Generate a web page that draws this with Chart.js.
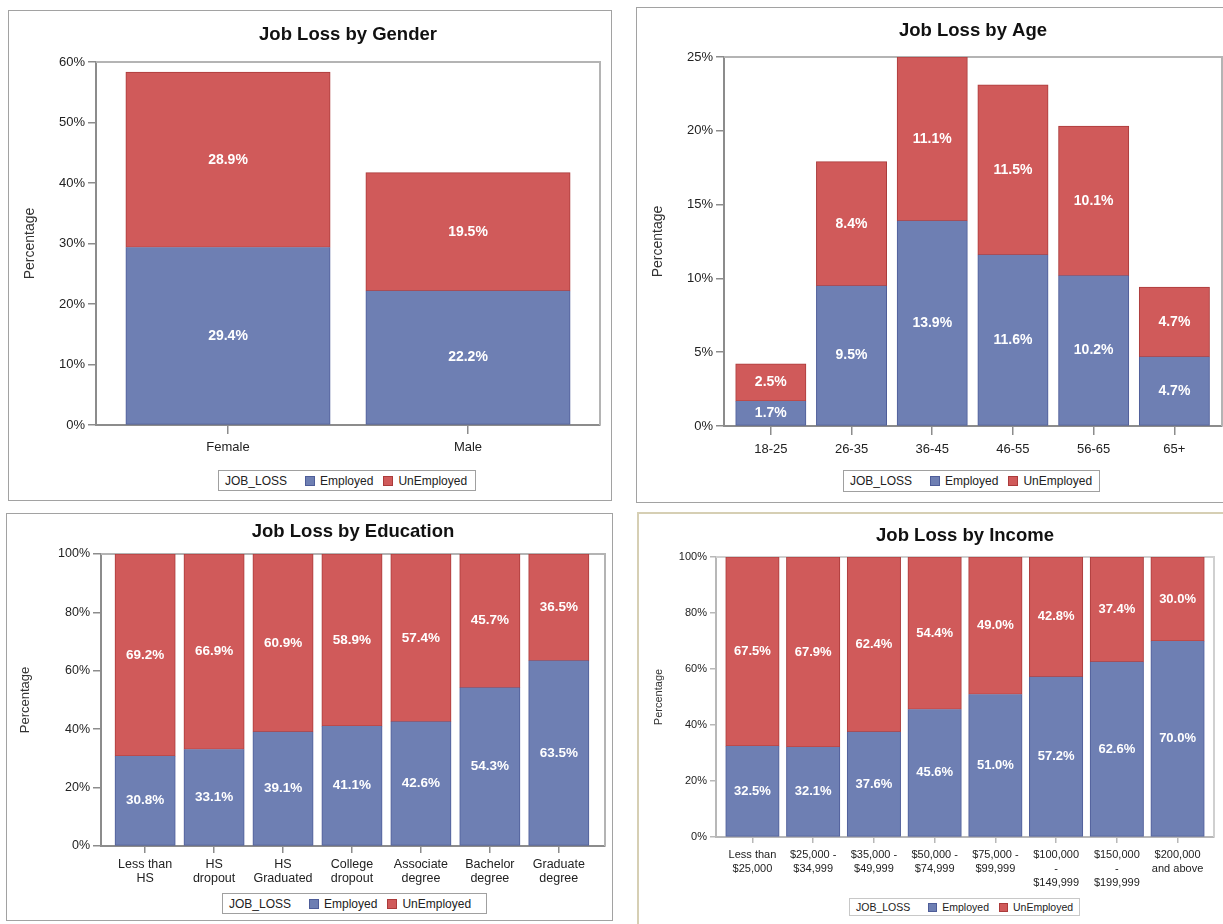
<!DOCTYPE html>
<html>
<head>
<meta charset="utf-8">
<title>Job Loss</title>
<script src="https://cdn.jsdelivr.net/npm/chart.js@4.4.1/dist/chart.umd.min.js"></script>
<style>
  html, body { margin: 0; padding: 0; background: #ffffff; }
  body { position: relative; width: 1223px; height: 924px; overflow: hidden;
         font-family: "Liberation Sans", Arial, sans-serif; }
  canvas { position: absolute; }
  .frame { position: absolute; box-sizing: border-box; border: 1px solid #a2a2a2; pointer-events: none; }
  .frame.beige { border-color: #d6cfb4; border-width: 2px; }
  .legend { position: absolute; box-sizing: border-box; border: 1px solid #a0a0a0; background: #fff;
            display: flex; align-items: center; color: #222; white-space: nowrap; }
  .legend .ttl { margin-right: 18px; }
  .legend .sw { display: inline-block; box-sizing: border-box; border: 1px solid; margin-right: 5px; }
  .legend .item { display: inline-flex; align-items: center; margin-right: 10px; }
</style>
</head>
<body>

<div class="frame" style="left:8px; top:10px; width:604px; height:491px;"></div>
<div class="frame" style="left:636px; top:7px; width:620px; height:496px;"></div>
<div class="frame" style="left:6px; top:513px; width:607px; height:408px;"></div>
<div class="frame beige" style="left:637px; top:512px; width:620px; height:430px;"></div>

<canvas id="genderChart" width="604" height="490" style="left:8px; top:10px;"></canvas>
<canvas id="ageChart" width="587" height="495" style="left:636px; top:7px;"></canvas>
<canvas id="educationChart" width="606" height="407" style="left:6px; top:513px;"></canvas>
<canvas id="incomeChart" width="585" height="411" style="left:638px; top:513px;"></canvas>

<div id="genderLegend" class="legend" style="left:218px; top:470px; width:258px; height:21px; font-size:12px; padding-left:6px;"></div>
<div id="ageLegend" class="legend" style="left:843px; top:470px; width:257px; height:22px; font-size:12px; padding-left:6px;"></div>
<div id="educationLegend" class="legend" style="left:222px; top:893px; width:265px; height:21px; font-size:12px; padding-left:6px;"></div>
<div id="incomeLegend" class="legend" style="left:849px; top:898px; width:231px; height:18px; font-size:10.5px; padding-left:6px; border-color:#c8c8c8;"></div>

<script>
// ---- data ----
const seriesNames = ['Employed', 'UnEmployed'];
const legendTitle = 'JOB_LOSS';
const axisTitle = 'Percentage';

const genderCategories = ['Female', 'Male'];
const genderEmployed   = [29.4, 22.2];
const genderUnemployed = [28.9, 19.5];

const ageCategories = ['18-25', '26-35', '36-45', '46-55', '56-65', '65+'];
const ageEmployed   = [1.7, 9.5, 13.9, 11.6, 10.2, 4.7];
const ageUnemployed = [2.5, 8.4, 11.1, 11.5, 10.1, 4.7];

const educationCategories = [
  ['Less than', 'HS'], ['HS', 'dropout'], ['HS', 'Graduated'], ['College', 'dropout'],
  ['Associate', 'degree'], ['Bachelor', 'degree'], ['Graduate', 'degree']
];
const educationEmployed   = [30.8, 33.1, 39.1, 41.1, 42.6, 54.3, 63.5];
const educationUnemployed = [69.2, 66.9, 60.9, 58.9, 57.4, 45.7, 36.5];

const incomeCategories = [
  ['Less than', '$25,000'], ['$25,000 -', '$34,999'], ['$35,000 -', '$49,999'],
  ['$50,000 -', '$74,999'], ['$75,000 -', '$99,999'], ['$100,000', '-', '$149,999'],
  ['$150,000', '-', '$199,999'], ['$200,000', 'and above']
];
const incomeEmployed   = [32.5, 32.1, 37.6, 45.6, 51.0, 57.2, 62.6, 70.0];
const incomeUnemployed = [67.5, 67.9, 62.4, 54.4, 49.0, 42.8, 37.4, 30.0];

// ---- styling ----
const FONT = '"Liberation Sans", Arial, sans-serif';
const BLUE = '#6e7fb3', BLUE_EDGE = '#4e5d99';
const RED = '#d05a5a', RED_EDGE = '#ab3b3b';

// light frame along the top and right of the plot area
const framePlugin = {
  id: 'plotFrame',
  beforeDatasetsDraw(chart, args, opts) {
    const { ctx, chartArea: a } = chart;
    ctx.save();
    ctx.strokeStyle = opts.color || '#b4b4b4';
    ctx.lineWidth = 2;
    ctx.beginPath();
    ctx.moveTo(a.left, a.top);
    ctx.lineTo(a.right, a.top);
    ctx.lineTo(a.right, a.bottom);
    ctx.stroke();
    ctx.restore();
  }
};

// chart heading, centred over the plot area
const headingPlugin = {
  id: 'heading',
  afterDraw(chart, args, opts) {
    const { ctx, chartArea: a } = chart;
    ctx.save();
    ctx.fillStyle = '#111';
    ctx.font = 'bold ' + opts.size + 'px ' + FONT;
    ctx.textAlign = 'center';
    ctx.textBaseline = 'middle';
    ctx.fillText(opts.text, (a.left + a.right) / 2, opts.y);
    ctx.restore();
  }
};

// percentage written in the middle of each stacked segment
const segmentLabelPlugin = {
  id: 'segmentLabels',
  afterDatasetsDraw(chart, args, opts) {
    const { ctx } = chart;
    ctx.save();
    ctx.fillStyle = '#ffffff';
    ctx.font = 'bold ' + (opts.size || 13) + 'px ' + FONT;
    ctx.textAlign = 'center';
    ctx.textBaseline = 'middle';
    chart.data.datasets.forEach((ds, i) => {
      const meta = chart.getDatasetMeta(i);
      meta.data.forEach((bar, j) => {
        const p = bar.getProps(['x', 'y', 'base'], true);
        ctx.fillText(ds.data[j].toFixed(1) + '%', p.x, (p.y + p.base) / 2);
      });
    });
    ctx.restore();
  }
};

function buildLegend(id, swatch) {
  const el = document.getElementById(id);
  const t = document.createElement('span');
  t.className = 'ttl';
  t.textContent = legendTitle;
  el.appendChild(t);
  [[BLUE, BLUE_EDGE], [RED, RED_EDGE]].forEach((c, i) => {
    const item = document.createElement('span');
    item.className = 'item';
    const sw = document.createElement('span');
    sw.className = 'sw';
    sw.style.width = swatch + 'px';
    sw.style.height = swatch + 'px';
    sw.style.background = c[0];
    sw.style.borderColor = c[1];
    item.appendChild(sw);
    item.appendChild(document.createTextNode(seriesNames[i]));
    el.appendChild(item);
  });
}

function buildChart(o) {
  const n = o.categories.length;
  return new Chart(document.getElementById(o.id), {
    type: 'bar',
    data: {
      labels: o.categories.map((_, i) => i),
      datasets: [
        // lower segment leaves its top edge to the red segment's outline
        { label: seriesNames[0], data: o.employed, backgroundColor: BLUE, borderColor: BLUE_EDGE,
          borderWidth: 1, borderSkipped: 'end', inflateAmount: 0.5 },
        { label: seriesNames[1], data: o.unemployed, backgroundColor: RED, borderColor: RED_EDGE,
          borderWidth: 1, borderSkipped: false, inflateAmount: 0.5 }
      ]
    },
    options: {
      responsive: false,
      animation: false,
      events: [],
      categoryPercentage: 1,
      barPercentage: o.barPct,
      layout: { padding: o.padding },
      plugins: {
        legend: { display: false },
        tooltip: { enabled: false },
        title: { display: false },
        heading: { text: o.title, y: o.titleY, size: 18.5 },
        plotFrame: { color: o.frameColor },
        segmentLabels: { size: o.labelSize }
      },
      scales: {
        x: {
          type: 'linear', stacked: true, offset: false,
          min: -o.edgeL, max: n - 1 + o.edgeR,
          afterFit: s => { s.height = o.xHeight; },
          border: { display: true, color: o.axisColor, width: 2 },
          grid: { display: true, drawOnChartArea: false, drawTicks: true, offset: false,
                  tickLength: o.xTick, color: o.axisColor, lineWidth: 1.5 },
          ticks: {
            stepSize: 1, includeBounds: false, autoSkip: false, maxRotation: 0, minRotation: 0,
            padding: o.xPad, color: '#222',
            font: { family: FONT, size: o.tickSize, lineHeight: o.tickLine || 1.15 },
            callback: v => o.categories[Math.round(v)]
          }
        },
        y: {
          stacked: true, min: 0, max: o.yMax,
          afterFit: s => { s.width = o.yWidth; },
          border: { display: true, color: o.axisColor, width: 2 },
          grid: { display: true, drawOnChartArea: false, drawTicks: true,
                  tickLength: o.yTick, color: o.axisColor, lineWidth: 1.5 },
          ticks: {
            stepSize: o.yStep, padding: 3, color: '#222',
            font: { family: FONT, size: o.tickSize },
            callback: v => v + '%'
          },
          title: {
            display: true, text: axisTitle, color: '#333',
            font: { family: FONT, size: o.yTitleSize },
            padding: { top: o.yTitlePad, bottom: 0 }
          }
        }
      }
    },
    plugins: [framePlugin, segmentLabelPlugin, headingPlugin]
  });
}

buildChart({
  id: 'genderChart', title: 'Job Loss by Gender', titleY: 25,
  categories: genderCategories, employed: genderEmployed, unemployed: genderUnemployed,
  yMax: 60, yStep: 10, edgeL: 0.55, edgeR: 0.55, barPct: 0.85,
  padding: { left: 10, right: 12, top: 52, bottom: 35 },
  yWidth: 78, xHeight: 40, xTick: 9, yTick: 8, xPad: 6,
  tickSize: 13, labelSize: 14, yTitleSize: 14, yTitlePad: 4,
  axisColor: '#8c8c8c', frameColor: '#b4b4b4'
});

buildChart({
  id: 'ageChart', title: 'Job Loss by Age', titleY: 23.5,
  categories: ageCategories, employed: ageEmployed, unemployed: ageUnemployed,
  yMax: 25, yStep: 5, edgeL: 0.58, edgeR: 0.59, barPct: 0.867,
  padding: { left: 10, right: 1, top: 50, bottom: 36 },
  yWidth: 78, xHeight: 40, xTick: 9, yTick: 8, xPad: 7,
  tickSize: 13, labelSize: 14, yTitleSize: 14, yTitlePad: 4,
  axisColor: '#8c8c8c', frameColor: '#b4b4b4'
});

buildChart({
  id: 'educationChart', title: 'Job Loss by Education', titleY: 19,
  categories: educationCategories, employed: educationEmployed, unemployed: educationUnemployed,
  yMax: 100, yStep: 20, edgeL: 0.64, edgeR: 0.67, barPct: 0.87,
  padding: { left: 8, right: 7, top: 41, bottom: 24 },
  yWidth: 87, xHeight: 50, xTick: 7, yTick: 8, xPad: 4,
  tickSize: 12.5, labelSize: 13.5, yTitleSize: 13, yTitlePad: 4,
  axisColor: '#8c8c8c', frameColor: '#b4b4b4'
});

buildChart({
  id: 'incomeChart', title: 'Job Loss by Income', titleY: 23,
  categories: incomeCategories, employed: incomeEmployed, unemployed: incomeUnemployed,
  yMax: 100, yStep: 20, edgeL: 0.6, edgeR: 0.6, barPct: 0.875,
  padding: { left: 8, right: 9, top: 44, bottom: 22 },
  yWidth: 70, xHeight: 65, xTick: 6, yTick: 6, xPad: 5, tickLine: 1.27,
  tickSize: 11, labelSize: 13, yTitleSize: 11, yTitlePad: 6,
  axisColor: '#b8b8b8', frameColor: '#d0d0d0'
});

buildLegend('genderLegend', 10);
buildLegend('ageLegend', 10);
buildLegend('educationLegend', 10);
buildLegend('incomeLegend', 9);
</script>
</body>
</html>
